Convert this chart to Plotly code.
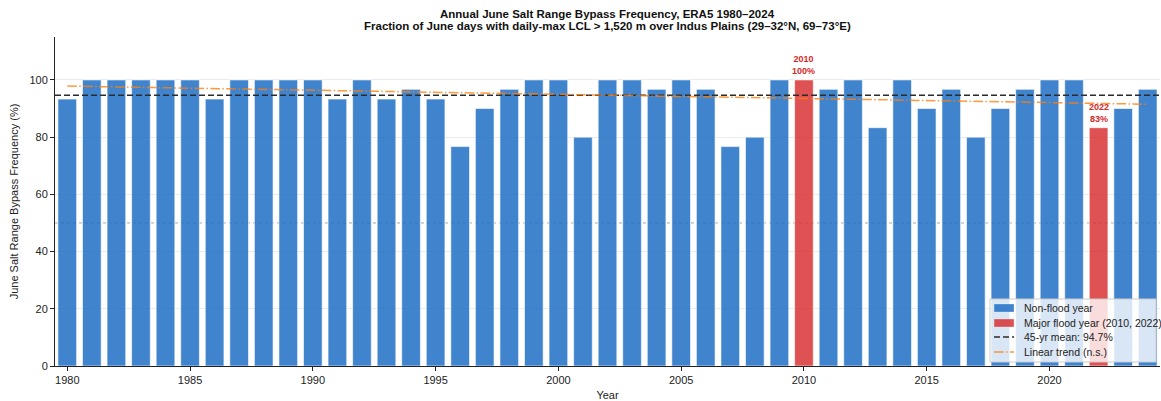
import numpy as np
import plotly.graph_objects as go

# June bypass frequency (% of June days), 1980-2024
years = list(range(1980, 2025))
freq = [
    93.3, 100, 100, 100, 100, 100, 93.3, 100, 100, 100,
    100, 93.3, 100, 93.3, 96.7, 93.3, 76.7, 90, 96.7, 100,
    100, 80, 100, 100, 96.7, 100, 96.7, 76.7, 80, 100,
    100, 96.7, 100, 83.3, 100, 90, 96.7, 80, 90, 96.7,
    100, 100, 83.3, 90, 96.7,
]
flood_years = [2010, 2022]

BLUE = "rgba(31,111,197,0.85)"
RED = "rgba(214,39,40,0.8)"
MEAN_COLOR = "#2b2b2b"
TREND_COLOR = "rgba(255,127,14,0.8)"
MEAN_DASH = "6px,3px"
TREND_DASH = "9.6px,2.4px,1.5px,2.4px"
FONT = "Liberation Sans, Arial, sans-serif"

nf_x = [y for y in years if y not in flood_years]
nf_y = [v for y, v in zip(years, freq) if y not in flood_years]
fl_x = [y for y in years if y in flood_years]
fl_y = [v for y, v in zip(years, freq) if y in flood_years]

mean_val = float(np.mean(freq))
slope, intercept = np.polyfit(years, freq, 1)
trend = [slope * y + intercept for y in years]

fig = go.Figure()
edge = dict(color="rgba(255,255,255,0.6)", width=1)
fig.add_trace(go.Bar(x=nf_x, y=nf_y, width=0.76, name="Non-flood year",
                     marker=dict(color=BLUE, line=edge), showlegend=False))
fig.add_trace(go.Bar(x=fl_x, y=fl_y, width=0.76, name="Major flood year (2010, 2022)",
                     marker=dict(color=RED, line=edge), showlegend=False))
fig.add_trace(go.Scatter(x=[1979.5, 2024.5], y=[mean_val, mean_val], mode="lines",
                         name=f"45-yr mean: {mean_val:.1f}%", showlegend=False,
                         line=dict(color=MEAN_COLOR, width=1.5, dash=MEAN_DASH)))
fig.add_trace(go.Scatter(x=years, y=trend, mode="lines", name="Linear trend (n.s.)",
                         showlegend=False,
                         line=dict(color=TREND_COLOR, width=1.5, dash=TREND_DASH)))

for y, v in zip(fl_x, fl_y):
    fig.add_annotation(x=y, y=v, yshift=2, yanchor="bottom", showarrow=False,
                       text=f"<b>{y}<br>{v:.0f}%</b>",
                       font=dict(family=FONT, size=9, color="#d62728"))

# dotted reference at 50 %
fig.add_shape(type="line", xref="paper", x0=0, x1=1, y0=50, y1=50,
              line=dict(color="#aaaaaa", width=1, dash="dot"), layer="below")

# titles (two lines, centred over the plotting area)
for txt, ypos in [("Annual June Salt Range Bypass Frequency, ERA5 1980–2024", 1.0699),
                  ("Fraction of June days with daily-max LCL > 1,520 m over Indus Plains (29–32°N, 69–73°E)", 1.0334)]:
    fig.add_annotation(xref="paper", yref="paper", x=0.5, y=ypos, xanchor="center",
                       yanchor="middle", showarrow=False, text=f"<b>{txt}</b>",
                       font=dict(family=FONT, size=11.5, color="#111"))

# legend box drawn in paper coordinates (lower right)
lx0, lx1, ly0, ly1 = 0.8462, 0.9964, 0.0122, 0.2036
fig.add_shape(type="rect", xref="paper", yref="paper", x0=lx0, x1=lx1, y0=ly0, y1=ly1,
              fillcolor="rgba(255,255,255,0.8)", line=dict(color="#cccccc", width=1))
sw0, sw1, tx = 0.8498, 0.8679, 0.8751
rows = [0.1763, 0.1307, 0.0881, 0.0426]
half = 0.0122
legend_items = [
    ("rect", BLUE, None, "Non-flood year"),
    ("rect", RED, None, "Major flood year (2010, 2022)"),
    ("line", MEAN_COLOR, MEAN_DASH, f"45-yr mean: {mean_val:.1f}%"),
    ("line", TREND_COLOR, TREND_DASH, "Linear trend (n.s.)"),
]
for (kind, col, dash, label), ry in zip(legend_items, rows):
    if kind == "rect":
        fig.add_shape(type="rect", xref="paper", yref="paper", x0=sw0, x1=sw1,
                      y0=ry - half, y1=ry + half, fillcolor=col,
                      line=dict(color="rgba(255,255,255,0.6)", width=0.5))
    else:
        fig.add_shape(type="line", xref="paper", yref="paper", x0=sw0, x1=sw1,
                      y0=ry, y1=ry, line=dict(color=col, width=1.5, dash=dash))
    fig.add_annotation(xref="paper", yref="paper", x=tx, y=ry, xanchor="left",
                       yanchor="middle", showarrow=False, text=label,
                       font=dict(family=FONT, size=10.5, color="#222"))

fig.update_layout(
    width=1161, height=401,
    margin=dict(l=55, r=1, t=37, b=35),
    plot_bgcolor="white", paper_bgcolor="white",
    barmode="overlay",
    font=dict(family=FONT, size=11, color="#222"),
    showlegend=False,
)
fig.update_xaxes(
    range=[1979.5, 2024.5], tickmode="array", tickvals=list(range(1980, 2021, 5)),
    ticks="outside", ticklen=4, tickcolor="#222", showline=True, linecolor="#222",
    linewidth=1, showgrid=False, zeroline=False,
    title=dict(text="Year", font=dict(family=FONT, size=11), standoff=6),
    tickfont=dict(family=FONT, size=11),
)
fig.update_yaxes(
    range=[0, 115], tickvals=[0, 20, 40, 60, 80, 100],
    ticks="outside", ticklen=4, tickcolor="#222", showline=True, linecolor="#222",
    linewidth=1, showgrid=True, gridcolor="#ebebeb", gridwidth=1, zeroline=False,
    title=dict(text="June Salt Range Bypass Frequency (%)", font=dict(family=FONT, size=11), standoff=8),
    tickfont=dict(family=FONT, size=11),
)

fig.write_html("out.html")
